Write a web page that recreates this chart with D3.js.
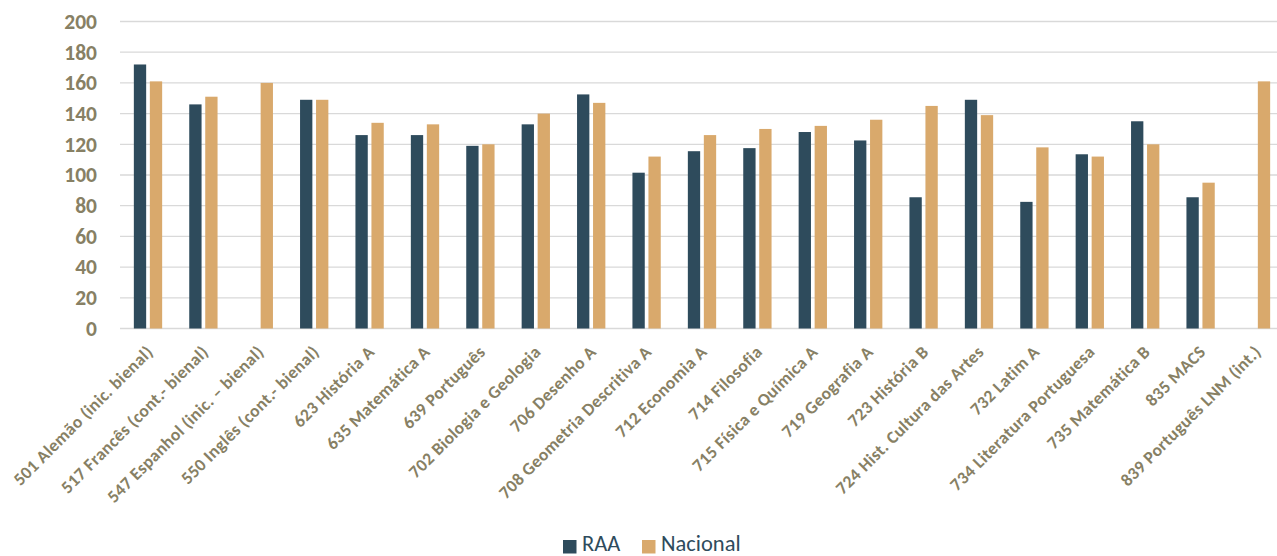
<!DOCTYPE html>
<html>
<head>
<meta charset="utf-8">
<script src="https://cdn.jsdelivr.net/npm/d3@7"></script>
<style>
  html, body { margin: 0; padding: 0; background: #ffffff; }
  svg { display: block; }
  text { font-family: Carlito, Lato, "Open Sans", sans-serif; }
</style>
</head>
<body>
<svg id="chart" width="1277" height="556"></svg>
<script>
// Exam categories (código + disciplina)
const categories = [
  "501 Alemão (inic. bienal)",
  "517 Francês (cont.- bienal)",
  "547 Espanhol (inic. – bienal)",
  "550 Inglês (cont.- bienal)",
  "623 História A",
  "635 Matemática A",
  "639 Português",
  "702 Biologia e Geologia",
  "706 Desenho A",
  "708 Geometria Descritiva A",
  "712 Economia A",
  "714 Filosofia",
  "715 Física e Química A",
  "719 Geografia A",
  "723 História B",
  "724 Hist. Cultura das Artes",
  "732 Latim A",
  "734 Literatura Portuguesa",
  "735 Matemática B",
  "835 MACS",
  "839 Português LNM (int.)"
];

const seriesNames = ["RAA", "Nacional"];

// RAA averages (null where no RAA value exists)
const raaValues = [172, 146, null, 149, 126, 126, 119, 133, 152.5, 101.5, 115.5, 117.5,
                   128, 122.5, 85.5, 149, 82.5, 113.5, 135, 85.5, null];

// National averages
const nacionalValues = [161, 151, 160, 149, 134, 133, 120, 140, 147, 112, 126, 130,
                        132, 136, 145, 139, 118, 112, 120, 95, 161];

const yTicks = [0, 20, 40, 60, 80, 100, 120, 140, 160, 180, 200];

const colors = { "RAA": "#2e4b5c", "Nacional": "#d9a96c" };
const labelColor = "#878064";
const gridColor = "#d9d9d9";

const svg = d3.select("#chart");
const W = 1277;

const x0 = d3.scaleBand()
  .domain(categories)
  .range([120.3, 1283.7])
  .paddingInner(0.489)
  .paddingOuter(0.2445);

const x1 = d3.scaleBand()
  .domain(seriesNames)
  .range([0, x0.bandwidth()])
  .paddingInner(0.23);

const y = d3.scaleLinear().domain([0, 200]).range([328.5, 21.5]);

// Horizontal gridlines
svg.append("g")
  .selectAll("line")
  .data(yTicks)
  .join("line")
  .attr("x1", 120)
  .attr("x2", W)
  .attr("y1", d => y(d))
  .attr("y2", d => y(d))
  .attr("stroke", gridColor)
  .attr("stroke-width", 1.3);

// Y axis labels
const yAxis = d3.axisLeft(y).tickValues(yTicks).tickSize(0).tickPadding(0);
const yg = svg.append("g")
  .attr("transform", "translate(97,0)")
  .call(yAxis);
yg.select(".domain").remove();
yg.selectAll("text")
  .attr("fill", labelColor)
  .attr("font-size", 21.5)
  .attr("font-weight", 800)
  .attr("font-family", "Carlito, Lato, sans-serif");

// Bars
const rows = categories.map((c, i) => ({
  cat: c,
  vals: [
    { key: "RAA", value: raaValues[i] },
    { key: "Nacional", value: nacionalValues[i] }
  ].filter(v => v.value !== null)
}));

const groups = svg.append("g")
  .selectAll("g")
  .data(rows)
  .join("g")
  .attr("transform", d => `translate(${x0(d.cat)},0)`);

groups.selectAll("rect")
  .data(d => d.vals)
  .join("rect")
  .attr("x", d => x1(d.key))
  .attr("width", x1.bandwidth())
  .attr("y", d => y(d.value))
  .attr("height", d => y(0) - y(d.value))
  .attr("fill", d => colors[d.key]);

// Category labels, rotated 45°
const xg = svg.append("g");
xg.selectAll("text")
  .data(categories)
  .join("text")
  .attr("transform", d => `translate(${x0(d) + x0.bandwidth() / 2 + 6},353) rotate(-45)`)
  .attr("text-anchor", "end")
  .attr("fill", labelColor)
  .attr("font-size", 17.5)
  .attr("letter-spacing", 0.35)
  .attr("font-weight", "bold")
  .text(d => d);

// Legend
const legend = svg.append("g");
const legendItems = [
  { key: "RAA", sx: 563, tx: 582 },
  { key: "Nacional", sx: 642, tx: 661 }
];
legend.selectAll("rect")
  .data(legendItems)
  .join("rect")
  .attr("x", d => d.sx)
  .attr("y", 540)
  .attr("width", 13.5)
  .attr("height", 13.5)
  .attr("fill", d => colors[d.key]);
legend.selectAll("text")
  .data(legendItems)
  .join("text")
  .attr("x", d => d.tx)
  .attr("y", 551)
  .attr("fill", "#2e4b5c")
  .attr("font-size", 22.5)
  .text(d => d.key);
</script>
</body>
</html>
